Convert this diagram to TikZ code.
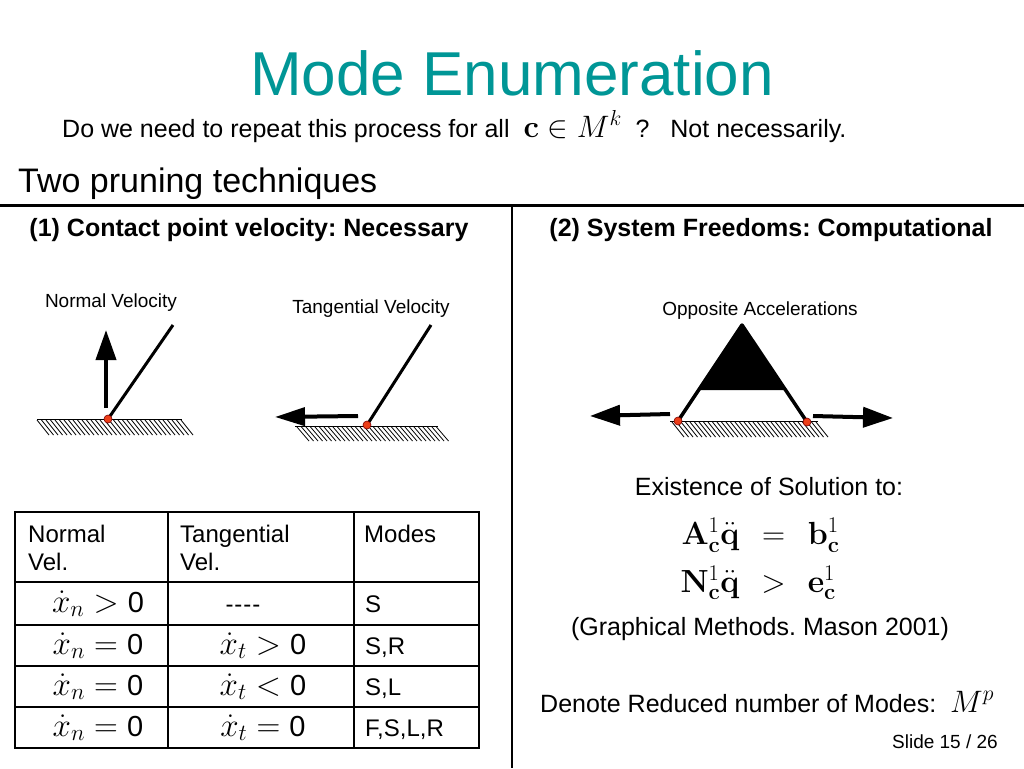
\RequirePackage{fix-cm}
\documentclass[tikz,border=0pt]{standalone}
\usepackage[no-math]{fontspec}
\setmainfont{Liberation Sans}
\usetikzlibrary{arrows.meta}

\definecolor{titleteal}{RGB}{0,150,150}
\definecolor{dotred}{RGB}{236,62,24}

\newcommand{\zerodigit}{\mbox{\fontsize{29}{29}\selectfont 0}}

\tikzset{
	txt/.style={inner sep=0pt, font=\fontsize{#1}{#1}\selectfont},
	head/.style={inner sep=0pt, anchor=base, font=\fontsize{25}{30}\selectfont\bfseries},
	sketchlabel/.style={txt=19, anchor=base},
	hatch/.style={line width=0.8pt},
	rod/.style={line width=3pt},
	vel/.style={line width=4pt, -{Triangle[length=30pt,width=20pt]}},
	dot/.style={fill=dotred, draw=red!50!black, line width=0.6pt},
	rule/.style={line width=1.5pt}
}

\begin{document}
\frenchspacing
\begin{tikzpicture}[x=1pt, y=-1pt]
	\useasboundingbox [fill=white] (0,0) rectangle (1024,768);

	% title and header
	\node [txt=62, text=titleteal, anchor=base] (title) at (512,95) {Mode Enumeration};
	\node [txt=25, anchor=base west] (question) at (62,137) {Do we need to repeat this process for all \ {\fontsize{31}{31}\selectfont$\mathbf{c}\in M^k$} \ ?\ \ \ Not necessarily.};
	\node [txt=34, anchor=base west] (two) at (18,192) {Two pruning techniques};

	\draw [line width=3pt] (0,205) -- (1024,205);
	\draw [line width=2.5pt] (512,205) -- (512,768);

	\node [head] (lefthead) at (249,236) {(1) Contact point velocity: Necessary};
	\node [head] (righthead) at (771,236) {(2) System Freedoms: Computational};

	% normal velocity
	\node [sketchlabel] (nlabel) at (111,307) {Normal Velocity};
	\draw [hatch] (37,419) -- (182,419);
	\foreach \x in {37,41.5,...,182}
		\draw [hatch] (\x,420) -- ++(12,15);
	\coordinate (np) at (108,419);
	\coordinate (ntop) at (173,325);
	\coordinate (nv0) at (106,408);
	\coordinate (nv1) at (106,330);
	\draw [rod] (np) -- (ntop);
	\draw [vel] (nv0) -- (nv1);
	\filldraw [dot] (np) circle (4);

	% tangential velocity
	\node [sketchlabel] (tlabel) at (371,313) {Tangential Velocity};
	\draw [hatch] (295,426) -- (438,426);
	\foreach \x in {297,301.5,...,438}
		\draw [hatch] (\x,427) -- ++(12,14);
	\coordinate (tp) at (367,425);
	\coordinate (ttop) at (431,325);
	\coordinate (tv0) at (358,416);
	\coordinate (tv1) at (275,417);
	\draw [rod] (tp) -- (ttop);
	\draw [vel, -{Triangle[length=30pt,width=18pt]}] (tv0) -- (tv1);
	\filldraw [dot] (tp) circle (4);

	% opposite accelerations
	\node [sketchlabel] (olabel) at (760,315) {Opposite Accelerations};
	\draw [hatch] (670,421) -- (818,421);
	\foreach \x in {672,676.5,...,818}
		\draw [hatch] (\x,422) -- ++(12,15);
	\coordinate (apex) at (742,325);
	\coordinate (lp) at (678,421);
	\coordinate (rp) at (807,422);
	\fill (apex) -- (699,390) -- (785,390) -- cycle;
	\draw [rod, line width=3.5pt, line join=round] (lp) -- (apex) -- (rp);
	\coordinate (lv0) at (670,414);
	\coordinate (lv1) at (590,416);
	\coordinate (rv0) at (813,416);
	\coordinate (rv1) at (893,418);
	\draw [vel] (lv0) -- (lv1);
	\draw [vel] (rv0) -- (rv1);
	\filldraw [dot] (lp) circle (4);
	\filldraw [dot] (rp) circle (4);

	% table
	\draw [line width=2.5pt] (15,512) rectangle (479,748);
	\foreach \y in {582,625,666,707}
		\draw [rule] (15,\y) -- (479,\y);
	\foreach \x in {168,354}
		\draw [rule] (\x,512) -- (\x,748);

	\node [txt=24, anchor=base west] (h1a) at (28,542) {Normal};
	\node [txt=24, anchor=base west] (h1b) at (28,570) {Vel.};
	\node [txt=24, anchor=base west] (h2a) at (180,542) {Tangential};
	\node [txt=24, anchor=base west] (h2b) at (180,570) {Vel.};
	\node [txt=24, anchor=base west] (h3a) at (364,542) {Modes};

	\foreach \y/\nv/\tx/\tv/\md [count=\r] in {
			612/{$\dot{x}_n>\zerodigit$}/243/{\fontsize{24}{24}\selectfont-\kern1pt-\kern1pt-\kern1pt-}/S,
			654/{$\dot{x}_n=\zerodigit$}/263/{$\dot{x}_t>\zerodigit$}/{S,R},
			695/{$\dot{x}_n=\zerodigit$}/263/{$\dot{x}_t<\zerodigit$}/{S,L},
			736/{$\dot{x}_n=\zerodigit$}/263/{$\dot{x}_t=\zerodigit$}/{F,S,L,R}} {
		\node [txt=33, anchor=base] (nvel\r) at (98,\y) {\nv};
		\node [txt=33, anchor=base] (tvel\r) at (\tx,\y) {\tv};
		\node [txt=24, anchor=base west] (mode\r) at (365,\y) {\md};
	}

	% existence of solution
	\node [txt=25, anchor=base] (exist) at (769,495) {Existence of Solution to:};
	\node [txt=32] (eqs) at (760,560) {\setlength{\arraycolsep}{11pt}$\begin{array}{@{}rcl@{}}
			\mathbf{A}^1_{\mathbf{c}}\ddot{\mathbf{q}} & = & \mathbf{b}^1_{\mathbf{c}}\\[12pt]
			\mathbf{N}^1_{\mathbf{c}}\ddot{\mathbf{q}} & > & \mathbf{e}^1_{\mathbf{c}}
		\end{array}$};
	\node [txt=25, anchor=base] (mason) at (760,635) {(Graphical Methods. Mason 2001)};
	\node [txt=25, anchor=base west] (reduced) at (540,712) {Denote Reduced number of Modes: \ {\fontsize{31}{31}\selectfont$M^p$}};
	\node [txt=19, anchor=base east] (slide) at (998,748) {Slide 15 / 26};
\end{tikzpicture}
\end{document}
